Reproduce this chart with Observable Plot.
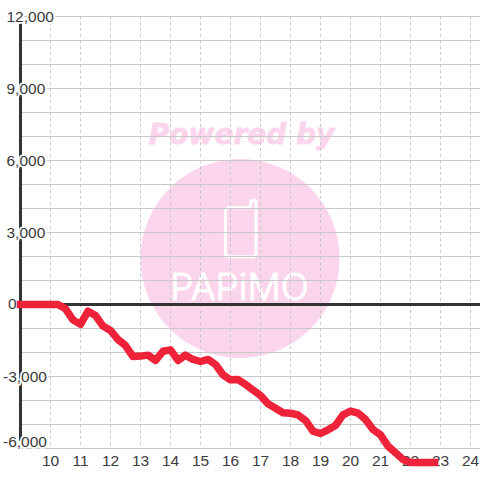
<!DOCTYPE html>
<html>
<head>
<meta charset="utf-8">
<script src="https://cdn.jsdelivr.net/npm/d3@7"></script>
<script src="https://cdn.jsdelivr.net/npm/@observablehq/plot@0.6"></script>
<style>html,body{margin:0;padding:0;background:#fff}svg{display:block}</style>
</head>
<body>
<div id="chart"></div>
<script>
const hours = [9,10,10.25,10.5,10.75,11,11.25,11.5,11.75,12,12.25,12.5,12.75,13,13.25,13.5,13.75,14,14.25,14.5,14.75,15,15.25,15.5,15.75,16,16.25,16.5,16.75,17,17.25,17.5,17.75,18,18.25,18.5,18.75,19,19.25,19.5,19.75,20,20.25,20.5,20.75,21,21.25,21.5,21.75,22,22.25,22.5,22.8];
const profit = [0,0,0,-180,-640,-830,-280,-460,-900,-1080,-1460,-1710,-2170,-2150,-2110,-2330,-1950,-1890,-2330,-2110,-2290,-2375,-2290,-2500,-2930,-3140,-3130,-3330,-3560,-3790,-4140,-4320,-4510,-4530,-4600,-4830,-5280,-5375,-5220,-5040,-4600,-4440,-4530,-4790,-5210,-5430,-5900,-6180,-6460,-6580,-6580,-6580,-6580];
const xTicks = [10,11,12,13,14,15,16,17,18,19,20,21,22,23,24];
const yGrid = [12000,11000,10000,9000,8000,7000,6000,5000,4000,3000,2000,1000,-1000,-2000,-3000,-4000,-5000,-6000];
const yPosLabels = [12000,9000,6000,3000];
const yNegLabels = [-3000];
const fmt = d3.format(",");
const badge = [{x:16.32,y:1917}];
const phoneX = [15.9,15.83,15.83,15.9,16.66,16.68,16.72,16.81,16.85,16.85,16.78,15.9];
const phoneY = [4030,3900,2100,1990,4030,4280,4340,4340,4280,2100,1990,1990];
const phoneOrder = [0,4,5,6,7,8,9,10,11,2,1,0];
const pink = "#fbd5ec";
const xMax = 24.3333;
const halo = {fontFamily:"Liberation Sans",fontSize:15.5,letterSpacing:"-0.25px",fill:"#3a3a3a",stroke:"#fff",strokeWidth:3.5,paintOrder:"stroke",textAnchor:"start"};

const plot = Plot.plot({
  width:480,height:480,margin:0,
  x:{type:"linear",domain:[9,xMax],range:[20,480],axis:null},
  y:{type:"linear",domain:[12000,-6000],range:[16,448],axis:null},
  marks:[
    Plot.dot(badge,{x:"x",y:"y",r:99.5,fill:pink,stroke:"none"}),
    Plot.text(["Powered by"],{x:[16.37],y:[7070],text:d=>d,fontFamily:"DejaVu Sans",fontWeight:"bold",fontStyle:"italic",fontSize:28,fill:pink,stroke:pink,strokeWidth:0.8}),
    Plot.line(phoneOrder.map(i=>[phoneX[i],phoneY[i]]),{x:"0",y:"1",stroke:"#fff",strokeWidth:3,curve:"linear",strokeLinejoin:"round"}),
    Plot.text(["PAPiMO"],{x:[16.3],y:[680],text:d=>d,fontFamily:"Inter",fontWeight:300,fontSize:37,fill:"#fff",stroke:"#fff",strokeWidth:0.8,letterSpacing:"1px"}),
    Plot.ruleX(xTicks,{y1:12000,y2:-6000,stroke:"#c8c8c8",strokeWidth:1,strokeDasharray:"3,3"}),
    Plot.ruleY(yGrid,{x1:9,x2:xMax,stroke:"#c8c8c8",strokeWidth:1}),
    Plot.ruleX([9],{y1:12000,y2:-5700,stroke:"#333",strokeWidth:3}),
    Plot.ruleY([0],{x1:9,x2:xMax,stroke:"#333",strokeWidth:3}),
    Plot.text(yPosLabels,{x:()=>9,y:d=>d,text:d=>fmt(d),dx:-14,dy:0.5,...halo}),
    Plot.text([0],{x:()=>9,y:d=>d,text:d=>fmt(d),dx:-12.5,dy:-0.5,...halo}),
    Plot.text(yNegLabels,{x:()=>9,y:d=>d,text:d=>fmt(d).replace("−","-"),dx:-17.5,dy:0.5,...halo}),
    Plot.text([-6000],{x:()=>9,y:d=>d,text:d=>fmt(d).replace("−","-"),dx:-17.5,dy:-6.5,...halo}),
    Plot.text(xTicks,{x:d=>d,y:()=>-6000,text:d=>String(d),dy:12.5,fontFamily:"Liberation Sans",fontSize:15.5,fill:"#3a3a3a"}),
    Plot.line(hours.map((h,i)=>[h,profit[i]]),{x:"0",y:"1",stroke:"#ee2238",strokeWidth:7.5,strokeLinecap:"square",strokeLinejoin:"round",curve:"linear"})
  ]
});
document.getElementById("chart").append(plot);
</script>
</body>
</html>
